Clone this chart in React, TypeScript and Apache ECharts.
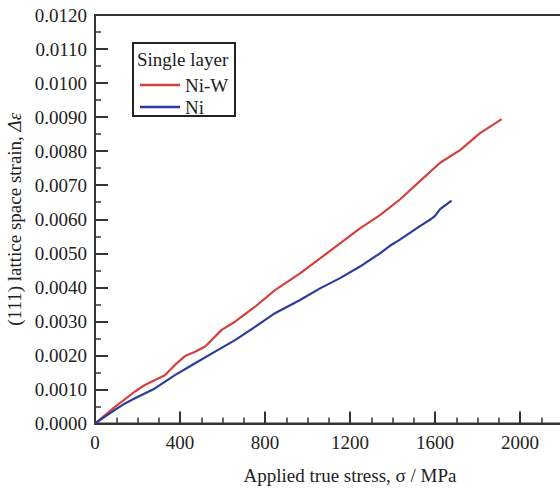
import React, { useEffect, useRef } from "react";
import * as echarts from "echarts";

const niwStress = [0, 94, 188, 235, 282, 329, 376, 424, 471, 518, 549, 596, 659, 753, 847, 965, 1059, 1153, 1247, 1341, 1435, 1529, 1624, 1718, 1812, 1914];
const niwStrain = [0, 0.00049, 0.00094, 0.00113, 0.00128, 0.00142, 0.00172, 0.00198, 0.00211, 0.00226, 0.00245, 0.00275, 0.00299, 0.00343, 0.00392, 0.00441, 0.00485, 0.00529, 0.00573, 0.00612, 0.00658, 0.00712, 0.00766, 0.00803, 0.00853, 0.00894];

const niStress = [0, 47, 94, 141, 188, 282, 376, 471, 565, 659, 753, 847, 965, 1059, 1153, 1247, 1341, 1388, 1435, 1529, 1580, 1600, 1624, 1678];
const niStrain = [0, 0.0002, 0.0004, 0.00059, 0.00074, 0.00103, 0.00142, 0.00177, 0.00211, 0.00245, 0.00284, 0.00324, 0.00363, 0.00397, 0.00427, 0.00461, 0.005, 0.00522, 0.0054, 0.0058, 0.006, 0.0061, 0.0063, 0.00655];

const seriesNames = ["Ni-W", "Ni"];
const legendTitle = "Single layer";
const xTitle = "Applied true stress, σ / MPa";
const yTitle = "(111) lattice space strain, {i|Δε}";

const FONT = "'Liberation Serif', 'Times New Roman', serif";
const AXIS = "#333333";
const RED = "#d4403a";
const BLUE = "#2c3b9c";

export default function App() {
  const ref = useRef<HTMLDivElement>(null);
  useEffect(() => {
    if (!ref.current) return;
    const chart = echarts.init(ref.current, null, { renderer: "svg" });
    const zip = (xs: number[], ys: number[]) => xs.map((x, i) => [x, ys[i]]);
    chart.setOption({
      animation: false,
      backgroundColor: "#ffffff",
      textStyle: { fontFamily: FONT },
      grid: {
        left: 95,
        top: 15,
        bottom: 68.5,
        right: -45,
        show: true,
        borderColor: AXIS,
        borderWidth: 2,
        backgroundColor: "transparent",
        containLabel: false,
        outerBoundsMode: "none",
      },
      xAxis: {
        type: "value",
        min: 0,
        max: 2400,
        interval: 400,
        name: xTitle,
        nameLocation: "middle",
        nameGap: 42,
        nameTextStyle: { fontFamily: FONT, fontSize: 19, color: "#222" },
        axisLine: { show: true, lineStyle: { color: AXIS, width: 2 } },
        axisTick: { show: true, inside: true, length: 12, lineStyle: { color: AXIS, width: 2 } },
        minorTick: { show: true, splitNumber: 4, length: 6, lineStyle: { color: AXIS, width: 1.5 } },
        splitLine: { show: false },
        axisLabel: {
          fontFamily: FONT,
          fontSize: 19,
          color: "#222",
          margin: 9,
          showMaxLabel: false,
          formatter: (v: number) => String(v),
        },
      },
      yAxis: {
        type: "value",
        min: 0,
        max: 0.012,
        interval: 0.001,
        name: yTitle,
        nameLocation: "middle",
        nameGap: 68,
        nameRotate: 90,
        nameTextStyle: {
          fontFamily: FONT,
          fontSize: 19,
          color: "#222",
          rich: { i: { fontFamily: FONT, fontSize: 19, fontStyle: "italic", color: "#222" } },
        },
        axisLine: { show: true, lineStyle: { color: AXIS, width: 2 } },
        axisTick: { show: true, inside: true, length: 13, lineStyle: { color: AXIS, width: 2 } },
        minorTick: { show: true, splitNumber: 2, length: 6, lineStyle: { color: AXIS, width: 1.5 } },
        splitLine: { show: false },
        axisLabel: {
          fontFamily: FONT,
          fontSize: 19,
          color: "#222",
          margin: 8,
          formatter: (v: number) => v.toFixed(4),
        },
      },
      legend: {
        orient: "vertical",
        left: 140,
        top: 75,
        icon: "rect",
        itemWidth: 40,
        itemHeight: 2.5,
        itemGap: 2,
        padding: 0,
        z: 10,
        data: seriesNames,
        textStyle: { fontFamily: FONT, fontSize: 19, lineHeight: 20, color: "#222" },
      },
      graphic: [
        {
          type: "rect",
          shape: { x: 133, y: 43, width: 102, height: 73 },
          style: { fill: "#ffffff", stroke: "#222", lineWidth: 2 },
          z: 5,
        },
        {
          type: "text",
          x: 137,
          y: 50,
          style: { text: legendTitle, font: `19px ${FONT}`, fill: "#222" },
          z: 6,
        },
      ],
      series: [
        {
          name: seriesNames[0],
          type: "line",
          data: zip(niwStress, niwStrain),
          symbol: "none",
          lineStyle: { color: RED, width: 2.2 },
          itemStyle: { color: RED },
        },
        {
          name: seriesNames[1],
          type: "line",
          data: zip(niStress, niStrain),
          symbol: "none",
          lineStyle: { color: BLUE, width: 2.2 },
          itemStyle: { color: BLUE },
        },
      ],
    });
    return () => chart.dispose();
  }, []);
  return (
    <div
      ref={ref}
      style={{ position: "fixed", left: 0, top: 0, width: 560, height: 492, overflow: "hidden", background: "#fff" }}
    />
  );
}
